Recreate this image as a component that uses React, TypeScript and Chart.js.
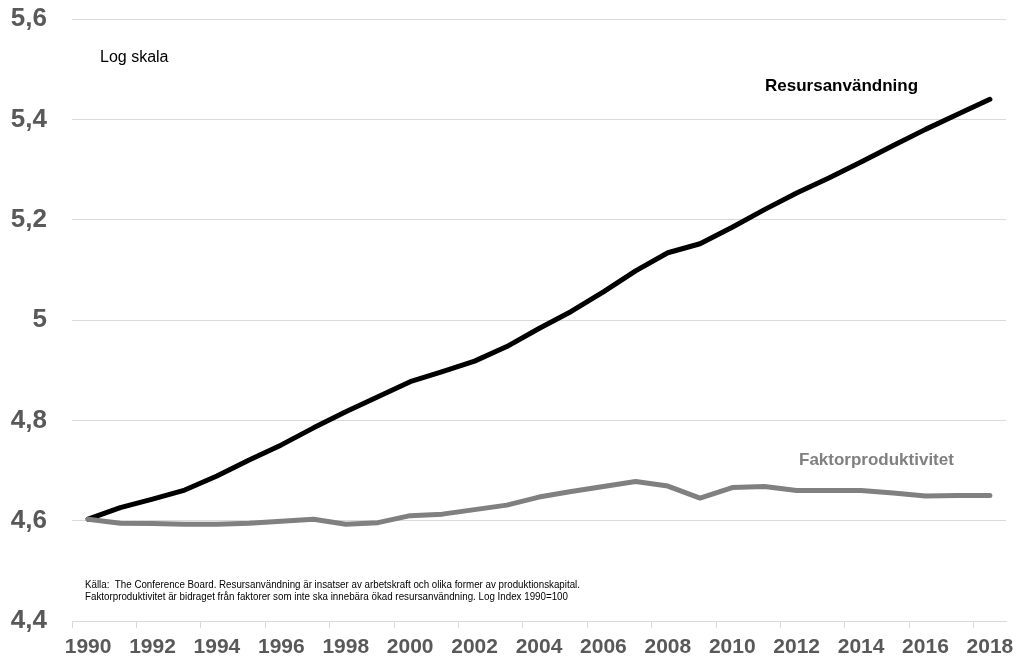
import React, { useEffect, useRef } from "react";
import { Chart, registerables } from "chart.js";

Chart.register(...registerables);

const years = [
  "1990", "1991", "1992", "1993", "1994", "1995", "1996", "1997", "1998", "1999",
  "2000", "2001", "2002", "2003", "2004", "2005", "2006", "2007", "2008", "2009",
  "2010", "2011", "2012", "2013", "2014", "2015", "2016", "2017", "2018",
];

const resursanvandning = [
  4.603, 4.626, 4.643, 4.661, 4.689, 4.721, 4.751, 4.785, 4.817, 4.847,
  4.877, 4.897, 4.918, 4.947, 4.983, 5.017, 5.056, 5.098, 5.134, 5.152,
  5.185, 5.22, 5.253, 5.283, 5.315, 5.348, 5.38, 5.41, 5.44,
];

const faktorproduktivitet = [
  4.603, 4.595, 4.5945, 4.593, 4.593, 4.595, 4.599, 4.603, 4.593, 4.596,
  4.61, 4.613, 4.622, 4.631, 4.647, 4.658, 4.668, 4.678, 4.669, 4.645,
  4.666, 4.668, 4.66, 4.66, 4.66, 4.655, 4.649, 4.65, 4.65,
];

const yMin = 4.4;
const yMax = 5.6;
const yStep = 0.2;

const FONT = "'Liberation Sans', Arial, Helvetica, sans-serif";
const sourceLines = [
  "Källa:  The Conference Board. Resursanvändning är insatser av arbetskraft och olika former av produktionskapital.",
  "Faktorproduktivitet är bidraget från faktorer som inte ska innebära ökad resursanvändning. Log Index 1990=100",
];

const annotationPlugin = {
  id: "annotations",
  afterDraw(chart: any) {
    const ctx = chart.ctx as CanvasRenderingContext2D;
    ctx.save();
    ctx.textBaseline = "middle";
    ctx.textAlign = "left";

    ctx.fillStyle = "#000000";
    ctx.font = `16px ${FONT}`;
    ctx.fillText("Log skala", 100, 58);

    ctx.font = `bold 17px ${FONT}`;
    ctx.fillStyle = "#000000";
    ctx.fillText("Resursanvändning", 765, 86);

    ctx.fillStyle = "#808080";
    ctx.fillText("Faktorproduktivitet", 799, 460);

    ctx.fillStyle = "#000000";
    ctx.font = `10px ${FONT}`;
    ctx.fillText(sourceLines[0], 85, 585.5, 495);
    ctx.fillText(sourceLines[1], 85, 597, 483);
    ctx.restore();
  },
};

export default function App() {
  const canvasRef = useRef<HTMLCanvasElement | null>(null);

  useEffect(() => {
    if (!canvasRef.current) return;
    const chart = new Chart(canvasRef.current, {
      type: "line",
      data: {
        labels: years,
        datasets: [
          {
            label: "Faktorproduktivitet",
            data: faktorproduktivitet,
            borderColor: "#808080",
            backgroundColor: "#808080",
            borderWidth: 5,
            pointRadius: 0,
            tension: 0,
            borderCapStyle: "round",
            borderJoinStyle: "round",
            order: 0,
          },
          {
            label: "Resursanvändning",
            data: resursanvandning,
            borderColor: "#000000",
            backgroundColor: "#000000",
            borderWidth: 5,
            pointRadius: 0,
            tension: 0,
            borderCapStyle: "round",
            borderJoinStyle: "round",
            order: 1,
          },
        ],
      },
      options: {
        animation: false,
        responsive: true,
        maintainAspectRatio: false,
        layout: { padding: { top: 19, right: 15, bottom: 0, left: 0 } },
        plugins: {
          legend: { display: false },
          tooltip: { enabled: false },
        },
        scales: {
          x: {
            type: "category",
            offset: true,
            afterFit: (scale: any) => {
              scale.height = 38;
            },
            grid: {
              offset: true,
              drawOnChartArea: false,
              drawTicks: true,
              tickLength: 7,
              tickColor: (c: any) => (c.index % 2 === 0 ? "#d9d9d9" : "rgba(0,0,0,0)"),
            },
            border: { display: true, color: "#d9d9d9", width: 1 },
            ticks: {
              autoSkip: false,
              maxRotation: 0,
              minRotation: 0,
              padding: 7,
              color: "#595959",
              font: { family: FONT, size: 21, weight: "bold" },
              callback: function (this: any, _v: any, i: number) {
                return i % 2 === 0 ? years[i] : "";
              },
            },
          },
          y: {
            min: yMin,
            max: yMax,
            afterFit: (scale: any) => {
              scale.width = 72;
            },
            grid: {
              color: "#d9d9d9",
              lineWidth: 1,
              drawTicks: true,
              tickLength: 25,
              tickColor: "rgba(0,0,0,0)",
            },
            border: { display: false },
            ticks: {
              stepSize: yStep,
              padding: 0,
              color: "#595959",
              font: { family: FONT, size: 26, weight: "bold" },
              callback: (v: any) => String(Number(Number(v).toFixed(1))).replace(".", ","),
            },
          },
        },
      },
      plugins: [annotationPlugin],
    });
    return () => chart.destroy();
  }, []);

  return (
    <div style={{ position: "fixed", left: 0, top: 0, width: 1021, height: 659, background: "#ffffff" }}>
      <canvas ref={canvasRef} />
    </div>
  );
}
